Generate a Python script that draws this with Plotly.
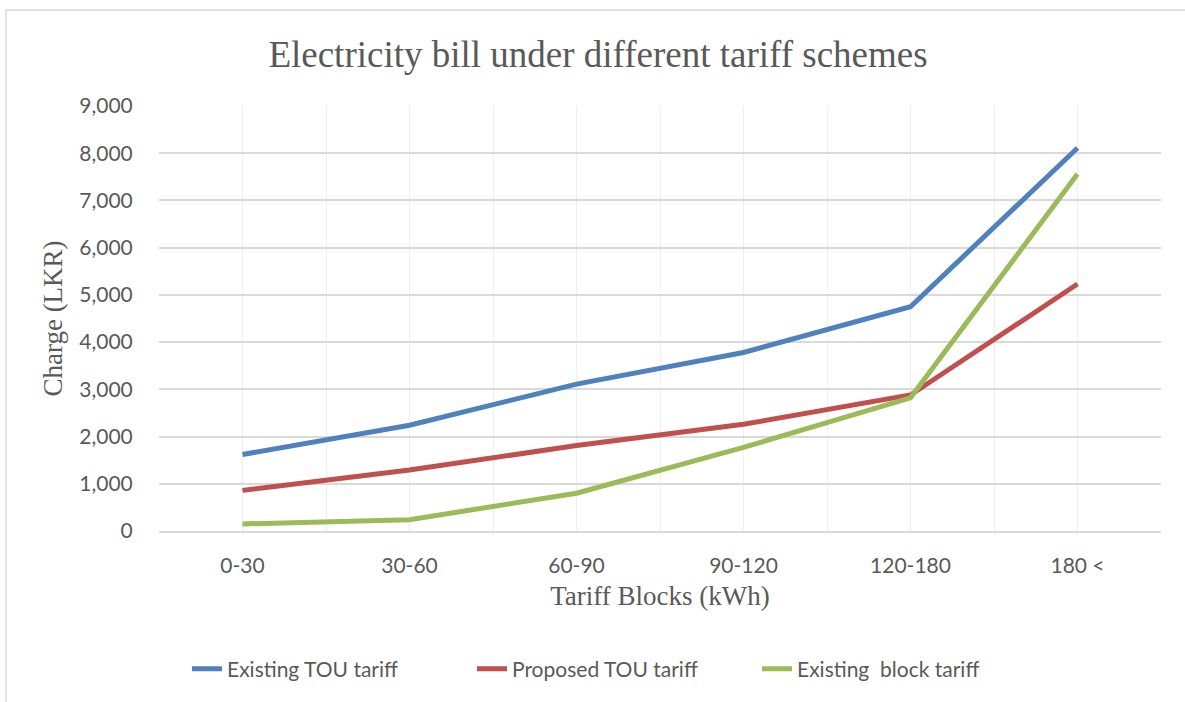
import plotly.graph_objects as go

categories = ["0-30", "30-60", "60-90", "90-120", "120-180", "180 <"]
existing_tou = [1620, 2240, 3110, 3780, 4750, 8110]
proposed_tou = [860, 1290, 1810, 2260, 2880, 5230]
existing_block = [150, 240, 800, 1770, 2820, 7560]
series_names = ["Existing TOU tariff", "Proposed TOU tariff", "Existing  block tariff"]
y_ticks = [0, 1000, 2000, 3000, 4000, 5000, 6000, 7000, 8000, 9000]

W, H = 1185, 702
L, R, T, B = 159, 24, 106, 171
PW, PH = W - L - R, H - T - B

colors = ["#4F81BD", "#C0504D", "#9BBB59"]
xs = list(range(len(categories)))

fig = go.Figure()
for name, vals, c in zip(series_names, [existing_tou, proposed_tou, existing_block], colors):
    fig.add_trace(go.Scatter(x=xs, y=vals, name=name, mode="lines",
                             line=dict(color=c, width=5)))

def px(x):
    return (x - L) / PW

def py(y):
    return (H - B - y) / PH

fig.update_layout(
    width=W, height=H,
    margin=dict(l=L, r=R, t=T, b=B, pad=0),
    paper_bgcolor="white", plot_bgcolor="white",
    title=dict(text="Electricity bill under different tariff schemes",
               font=dict(family="Liberation Serif", size=37, color="#595959"),
               x=px(598), xref="paper", xanchor="center",
               y=1 - 54 / H, yanchor="middle"),
    font=dict(family="Lato", color="#595959"),
    legend=dict(orientation="h", x=px(187), xanchor="left", y=py(669), yanchor="middle",
                font=dict(family="Lato", size=21, color="#595959"),
                entrywidth=240, entrywidthmode="pixels", traceorder="normal"),
    shapes=[dict(type="rect", xref="paper", yref="paper",
                 x0=px(6), x1=px(1200), y0=py(720), y1=py(10),
                 line=dict(color="#d9d9d9", width=1.5), layer="below")],
)
fig.update_xaxes(
    range=[-0.5, len(categories) - 0.5],
    tickvals=xs, ticktext=categories,
    tickfont=dict(family="Lato", size=21, color="#595959"),
    ticks="outside", ticklen=15, tickcolor="rgba(0,0,0,0)",
    showgrid=True, gridcolor="#efefef", gridwidth=1.2,
    minor=dict(tickvals=[i - 0.5 for i in range(len(categories) + 1)], showgrid=True,
               gridcolor="#efefef", gridwidth=1.2, ticks=""),
    showline=True, linecolor="#d9d9d9", linewidth=1.5,
    zeroline=False,
    title=dict(text="Tariff Blocks (kWh)", standoff=10,
               font=dict(family="Liberation Serif", size=27, color="#595959")),
)
fig.update_yaxes(
    range=[0, 9000], tickvals=y_ticks, tickformat=",d",
    tickfont=dict(family="Lato", size=21, color="#595959"),
    ticks="outside", ticklen=21, tickcolor="rgba(0,0,0,0)",
    showgrid=True, gridcolor="#d9d9d9", gridwidth=1.5,
    zeroline=False, showline=False,
    title=dict(text="Charge (LKR)", standoff=8,
               font=dict(family="Liberation Serif", size=27, color="#595959")),
)

fig.write_html("out.html")
